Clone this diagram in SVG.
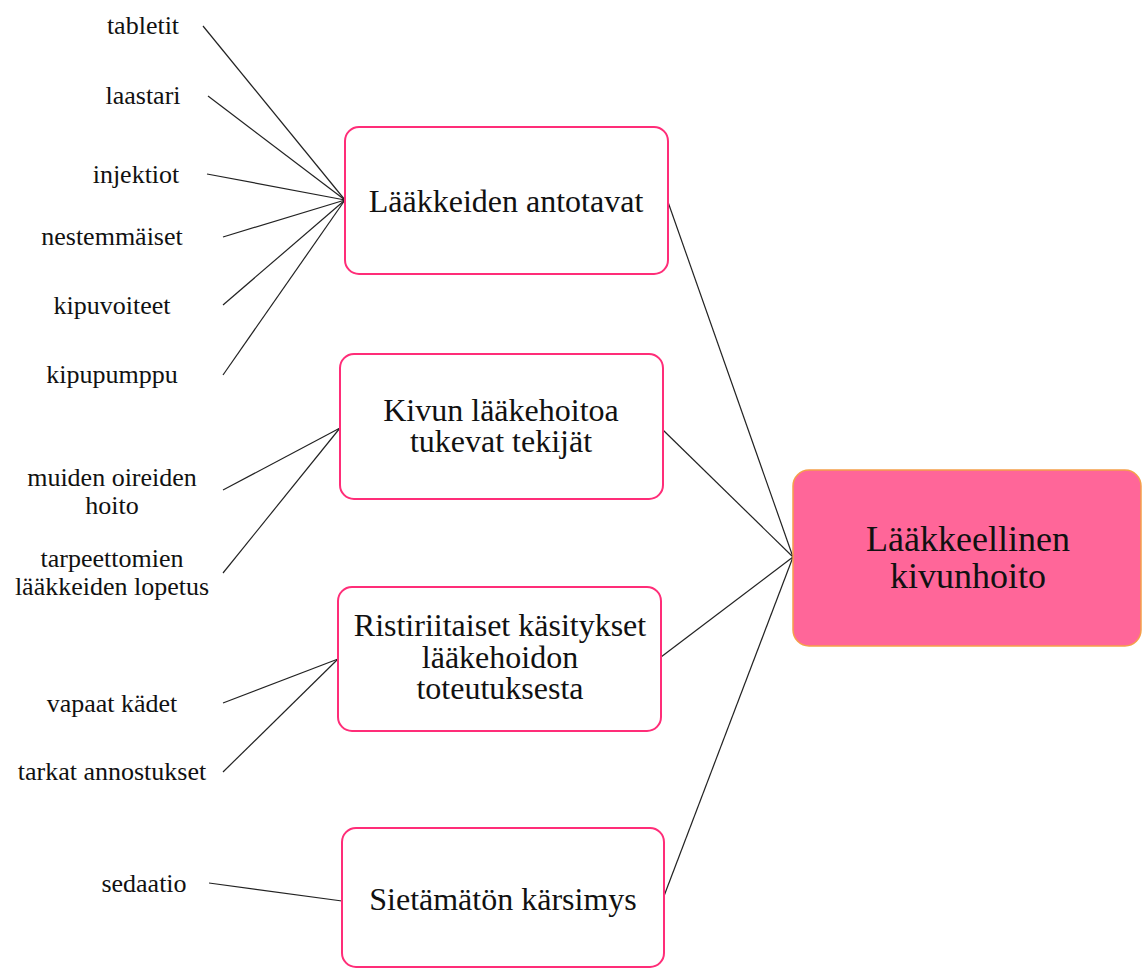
<svg xmlns="http://www.w3.org/2000/svg" width="1142" height="969" viewBox="0 0 1142 969">
<style>
.box{fill:#ffffff;stroke:#ff2d78;stroke-width:2}
.main{fill:#ff6699;stroke:#f5a04a;stroke-width:1.5}
.bt{font-family:"Liberation Serif",serif;font-size:32px;fill:#111;text-anchor:middle}
.mt{font-family:"Liberation Serif",serif;font-size:36px;fill:#111;text-anchor:middle}
.lt{font-family:"Liberation Serif",serif;font-size:26px;fill:#111;text-anchor:middle}
.c line{stroke:#222;stroke-width:1.2}
</style>
<rect width="1142" height="969" fill="#ffffff"/>
<g class="c" id="connectors">
<line x1="203" y1="26" x2="345" y2="200"/>
<line x1="208" y1="96" x2="345" y2="200"/>
<line x1="207" y1="174" x2="345" y2="200"/>
<line x1="223" y1="237" x2="345" y2="200"/>
<line x1="223" y1="305" x2="345" y2="200"/>
<line x1="223" y1="375" x2="345" y2="200"/>
<line x1="223" y1="490" x2="340" y2="428"/>
<line x1="223" y1="573" x2="340" y2="428"/>
<line x1="223" y1="703" x2="338" y2="659"/>
<line x1="223" y1="772" x2="338" y2="659"/>
<line x1="209" y1="883" x2="342" y2="901"/>
<line x1="668" y1="202" x2="793" y2="557"/>
<line x1="663" y1="430" x2="793" y2="557"/>
<line x1="661" y1="657" x2="793" y2="557"/>
<line x1="664" y1="896" x2="793" y2="557"/>
</g>
<g id="labels">
<text class="lt" x="143" y="34">tabletit</text>
<text class="lt" x="143" y="104">laastari</text>
<text class="lt" x="136" y="183">injektiot</text>
<text class="lt" x="112" y="245">nestemmäiset</text>
<text class="lt" x="112" y="314">kipuvoiteet</text>
<text class="lt" x="112" y="383">kipupumppu</text>
<text class="lt" x="112" y="486">muiden oireiden</text>
<text class="lt" x="112" y="514">hoito</text>
<text class="lt" x="112" y="567">tarpeettomien</text>
<text class="lt" x="112" y="595">lääkkeiden lopetus</text>
<text class="lt" x="112" y="712">vapaat kädet</text>
<text class="lt" x="112" y="780">tarkat annostukset</text>
<text class="lt" x="144" y="892">sedaatio</text>
</g>
<g id="n1"><rect class="box" x="345" y="127" width="323" height="147" rx="14"/><text class="bt" x="506" y="212">Lääkkeiden antotavat</text></g>
<g id="n2"><rect class="box" x="340" y="354" width="323" height="145" rx="14"/><text class="bt" x="501" y="421">Kivun lääkehoitoa</text><text class="bt" x="501" y="452">tukevat tekijät</text></g>
<g id="n3"><rect class="box" x="338" y="587" width="323" height="144" rx="14"/><text class="bt" x="500" y="636">Ristiriitaiset käsitykset</text><text class="bt" x="500" y="668">lääkehoidon</text><text class="bt" x="500" y="699">toteutuksesta</text></g>
<g id="n4"><rect class="box" x="342" y="828" width="322" height="139" rx="14"/><text class="bt" x="503" y="910">Sietämätön kärsimys</text></g>
<g id="main"><rect class="main" x="793" y="470" width="348" height="176" rx="16"/><text class="mt" x="968" y="551">Lääkkeellinen</text><text class="mt" x="968" y="588">kivunhoito</text></g>
</svg>
